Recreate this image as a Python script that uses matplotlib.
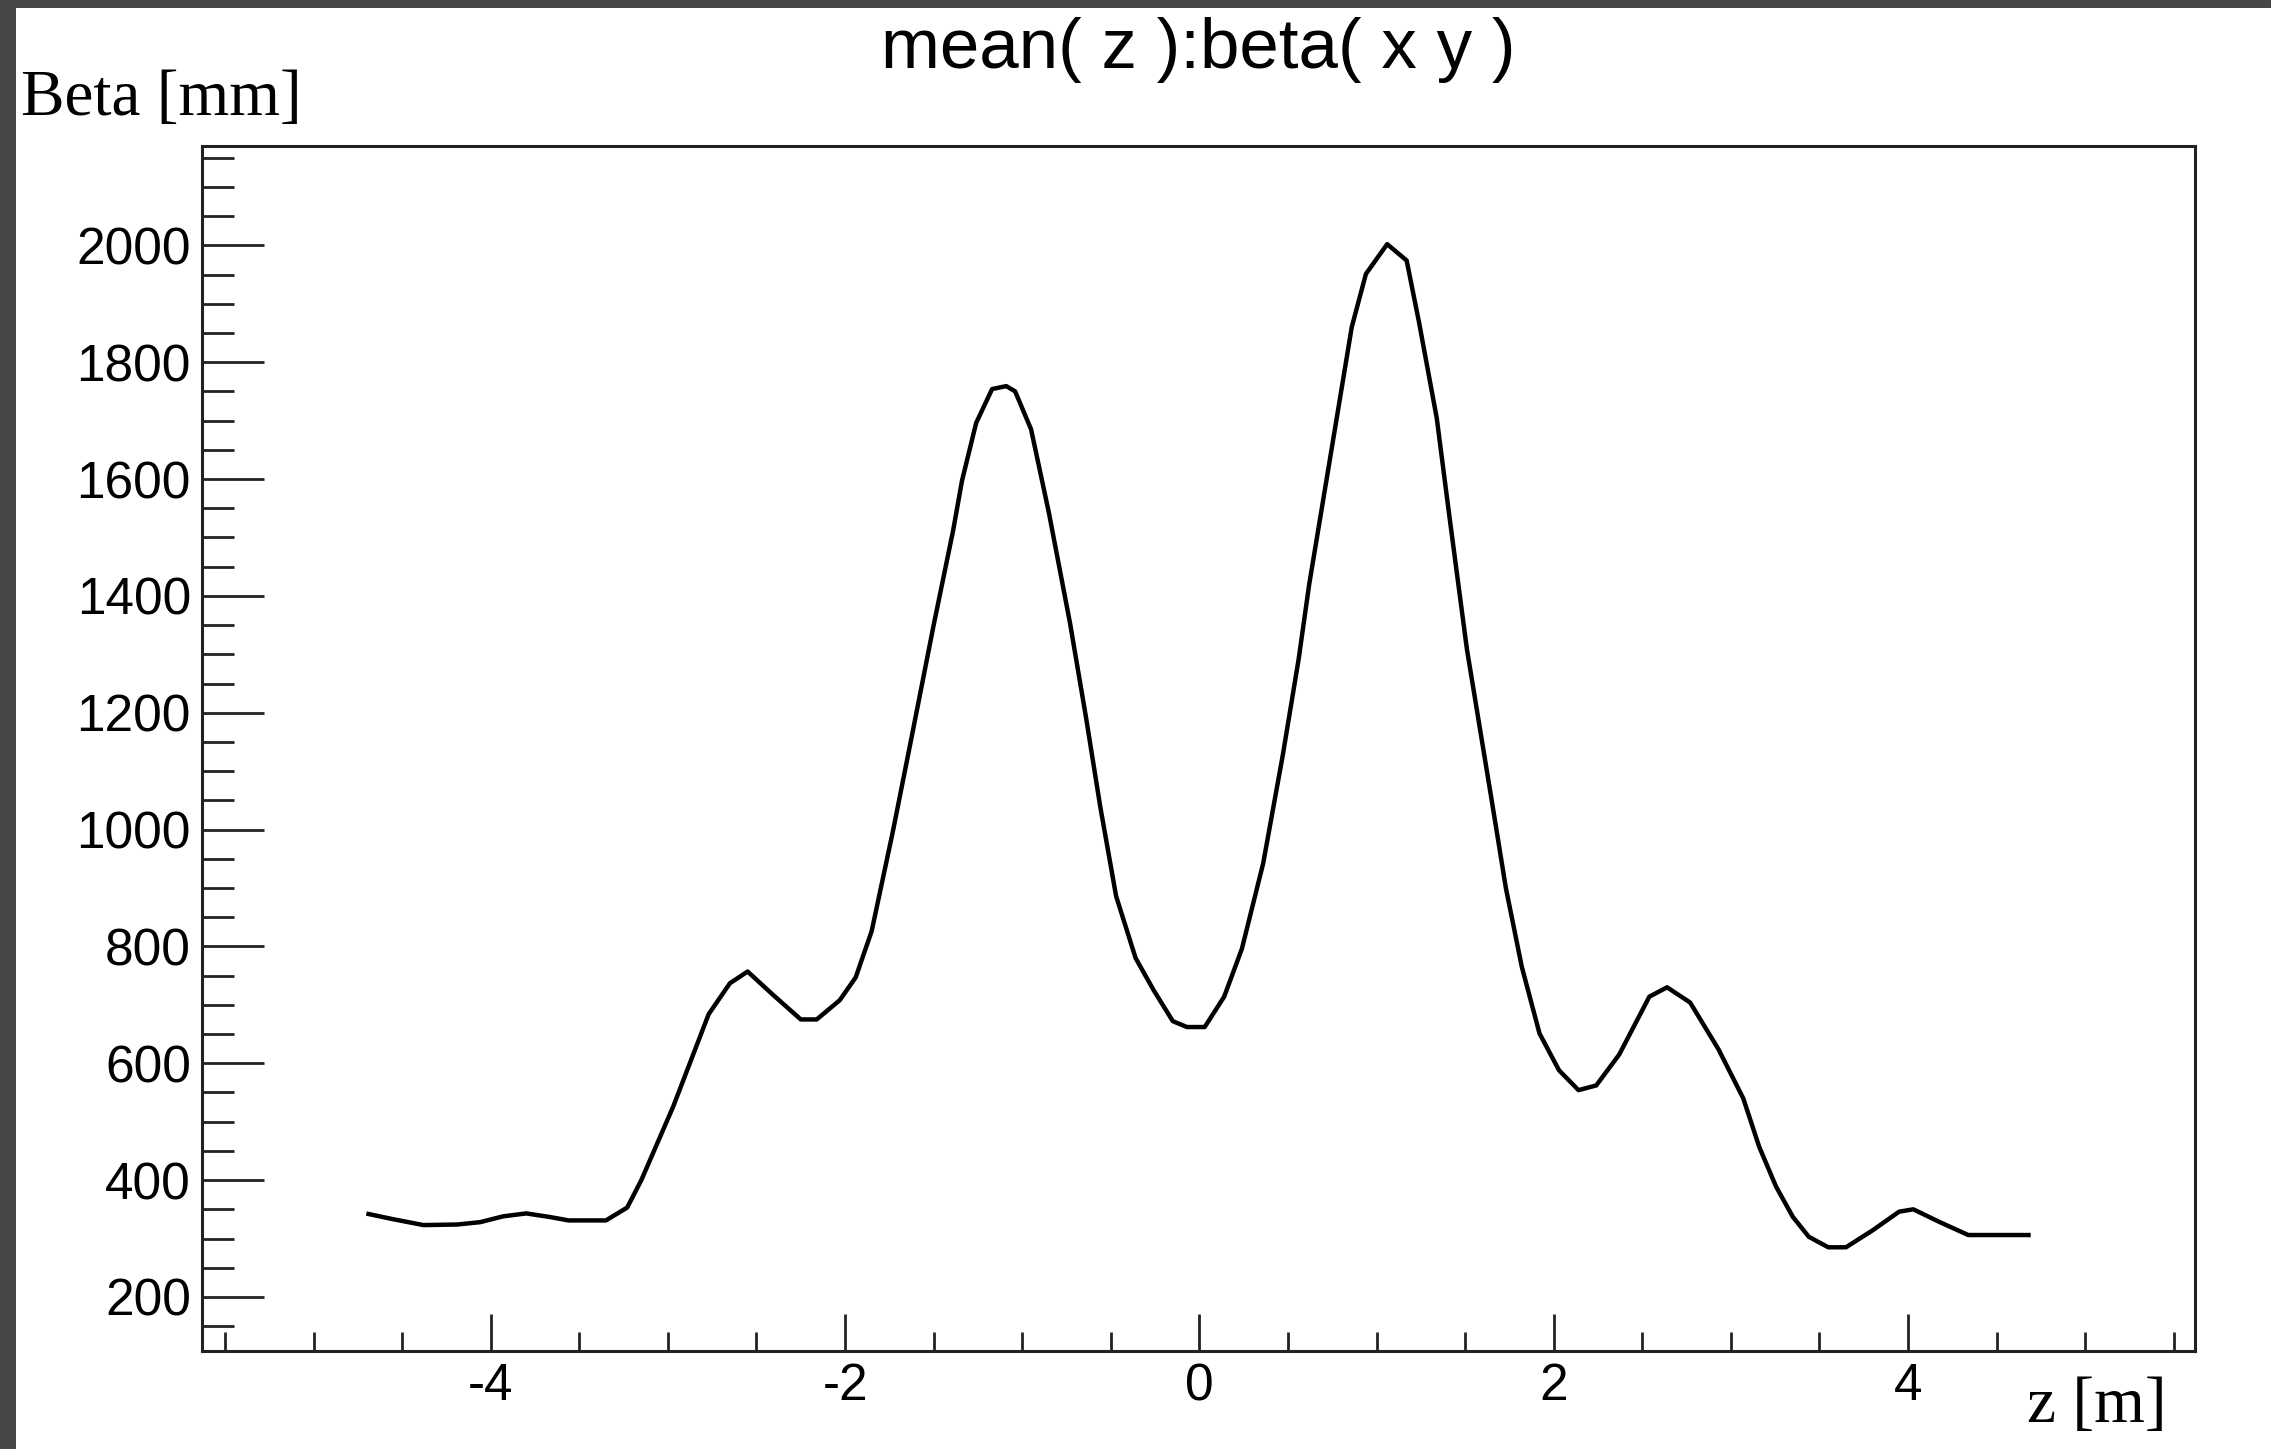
import matplotlib
matplotlib.use("Agg")
import matplotlib.pyplot as plt
from matplotlib.patches import Rectangle
from matplotlib.ticker import MultipleLocator, FixedLocator
import numpy as np

plt.rcParams['axes.unicode_minus'] = False

# ---- data ----
z_m = [-4.69, -4.55, -4.38, -4.19, -4.06, -3.93, -3.80, -3.67, -3.56, -3.35,
       -3.23, -3.15, -3.10, -2.97, -2.77, -2.65, -2.55, -2.41, -2.25, -2.16,
       -2.03, -1.94, -1.85, -1.73, -1.62, -1.50, -1.39, -1.34, -1.26, -1.17,
       -1.09, -1.04, -0.95, -0.85, -0.73, -0.64, -0.56, -0.47, -0.36, -0.26,
       -0.15, -0.07, 0.03, 0.14, 0.24, 0.36, 0.47, 0.56, 0.62, 0.72,
       0.81, 0.86, 0.94, 1.06, 1.17, 1.24, 1.34, 1.41, 1.51, 1.65,
       1.73, 1.82, 1.92, 2.03, 2.14, 2.24, 2.37, 2.54, 2.64, 2.77,
       2.93, 3.07, 3.16, 3.255, 3.35, 3.44, 3.55, 3.65, 3.80, 3.95,
       4.03, 4.18, 4.34, 4.68]
beta_mm = [342, 333, 323, 324, 328, 338, 343, 337, 331, 331,
           353, 400, 435, 526, 684, 737, 757, 718, 675, 675,
           708, 747, 826, 997, 1165, 1350, 1512, 1597, 1696, 1754,
           1759, 1750, 1685, 1543, 1353, 1192, 1040, 886, 780, 726,
           672, 662, 662, 714, 796, 942, 1126, 1291, 1420, 1603,
           1768, 1860, 1951, 2002, 1974, 1868, 1704, 1539, 1309, 1050,
           900, 765, 651, 588, 554, 562, 615, 714, 730, 704,
           624, 540, 457, 389, 337, 303, 285, 285, 314, 346,
           350, 328, 306, 306]

x_major = [-4, -2, 0, 2, 4]
y_major = [200, 400, 600, 800, 1000, 1200, 1400, 1600, 1800, 2000]

title = "mean( z ):beta( x y )"
xlabel = "z [m]"
ylabel = "Beta [mm]"

W, H, DPI = 2271, 1449, 100
fig = plt.figure(figsize=(W / DPI, H / DPI), dpi=DPI, facecolor='white')

# dark window border (left and top)
fig.patches.append(Rectangle((0, 0), 16 / W, 1, transform=fig.transFigure,
                             facecolor='#474747', edgecolor='none', zorder=10))
fig.patches.append(Rectangle((0, 1 - 8 / H), 1, 8 / H, transform=fig.transFigure,
                             facecolor='#474747', edgecolor='none', zorder=10))

left, right, top, bottom = 202, 2195, 146, 1351
ax = fig.add_axes([left / W, 1 - bottom / H, (right - left) / W, (bottom - top) / H])

ax.plot(z_m, beta_mm, color='black', lw=3.2, solid_joinstyle='round')

ax.set_xlim(-5.63, 5.62)
ax.set_ylim(107.5, 2170)

ax.xaxis.set_major_locator(FixedLocator(x_major))
ax.xaxis.set_minor_locator(MultipleLocator(0.5))
ax.yaxis.set_major_locator(FixedLocator(y_major))
ax.yaxis.set_minor_locator(MultipleLocator(50))
ax.set_xticklabels([str(v) for v in x_major])
ax.set_yticklabels([str(v) for v in y_major])

tick_col = '#222222'
ax.tick_params(axis='y', which='major', direction='in', length=44.6, width=2.0,
               color=tick_col, pad=8, labelsize=37, right=False)
ax.tick_params(axis='y', which='minor', direction='in', length=23, width=2.0,
               color=tick_col, right=False)
ax.tick_params(axis='x', which='major', direction='in', length=27, width=2.0,
               color=tick_col, pad=8, labelsize=37, top=False)
ax.tick_params(axis='x', which='minor', direction='in', length=13.7, width=2.0,
               color=tick_col, top=False)
for lab in ax.get_xticklabels() + ax.get_yticklabels():
    lab.set_family('Liberation Sans')

for sp in ax.spines.values():
    sp.set_linewidth(2.2)
    sp.set_color(tick_col)

fig.text((left + right) / 2 / W, 1 - 68 / H, title, ha='center', va='baseline',
         fontsize=51, family='Liberation Sans')
fig.text(21 / W, 1 - 115 / H, ylabel, ha='left', va='baseline',
         fontsize=47, family='Liberation Serif')
fig.text(2167 / W, 1 - 1422 / H, xlabel, ha='right', va='baseline',
         fontsize=47, family='Liberation Serif')

fig.savefig('out.png', dpi=DPI, facecolor='white')
